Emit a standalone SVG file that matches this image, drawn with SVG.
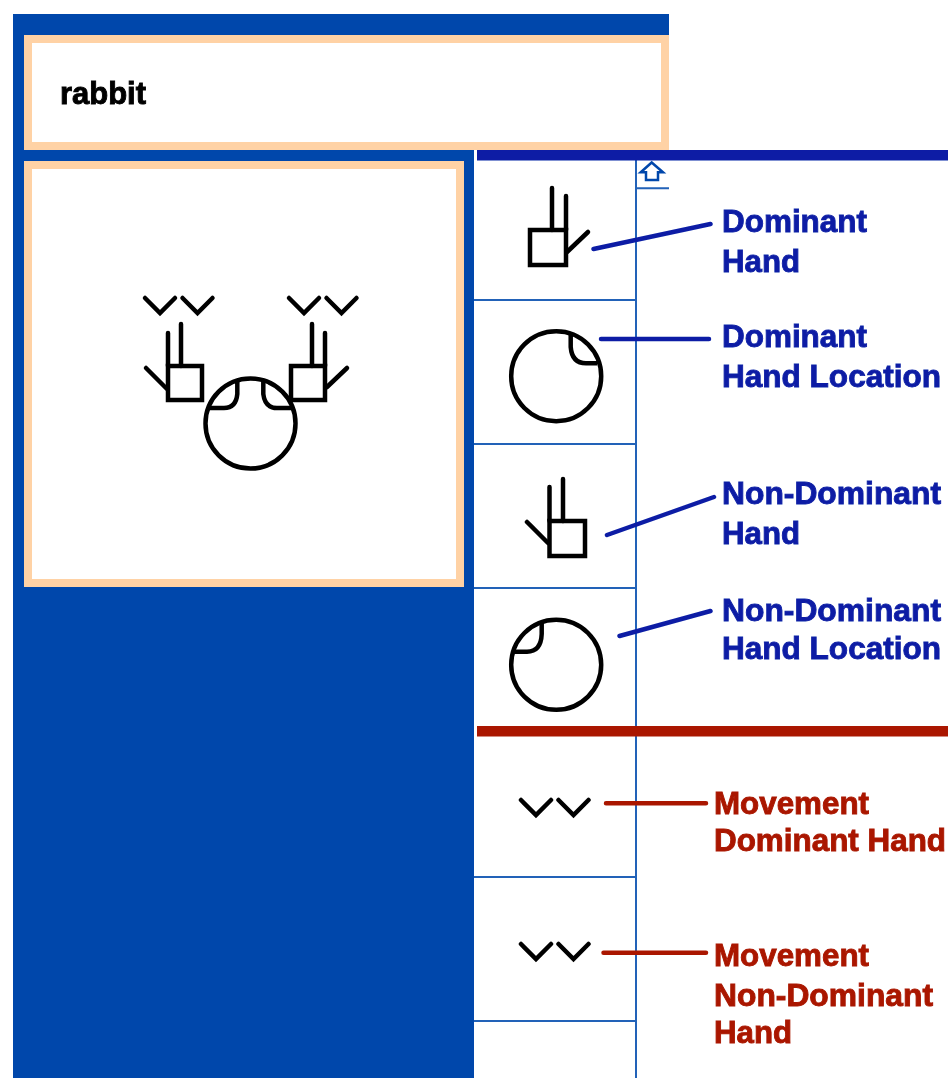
<svg xmlns="http://www.w3.org/2000/svg" width="948" height="1078" viewBox="0 0 948 1078">
<defs>
<filter id="soft" x="-5%" y="-5%" width="110%" height="110%"><feGaussianBlur stdDeviation="0.55"/></filter>
<g id="chev"><path d="M0 0L15 15L30 0M37.500 0L52.500 15L67.500 0" class="ink"/></g>
</defs>
<style>
.ink{fill:none;stroke:#000;stroke-width:4.500;stroke-linecap:round}
.sq{fill:none;stroke:#000;stroke-width:4.500;stroke-linecap:butt}
.cell{stroke:#2462b8;stroke-width:2;fill:none}
.lb{stroke:#0a1fa5;stroke-width:4.500;fill:none;stroke-linecap:round}
.lr{stroke:#aa1800;stroke-width:4.500;fill:none;stroke-linecap:round}
text{font-family:"Liberation Sans",Arial,sans-serif;font-weight:700;font-size:31px;stroke-width:0.9px}
.tb{fill:#0a1fa5;stroke:#0a1fa5}
.tr{fill:#aa1800;stroke:#aa1800}
.tk{fill:#000;stroke:#000}
</style>
<rect width="948" height="1078" fill="#fff"/>
<g filter="url(#soft)">
<g id="panel-background">
<path d="M13 14H669V35H474V1078H13Z" fill="#0047ab"/>
<rect x="24" y="150" width="450" height="11" fill="#0047ab"/>
</g>
<g id="word-frame">
<rect x="28" y="39" width="637" height="107" fill="#fff" stroke="#ffd2a5" stroke-width="8"/>
<text x="60" y="104" class="tk" textLength="86" lengthAdjust="spacingAndGlyphs">rabbit</text>
</g>
<g id="sign-frame">
<rect x="28" y="165" width="432" height="418" fill="#fff" stroke="#ffd2a5" stroke-width="8"/>
<use href="#chev" x="145" y="298"/>
<use href="#chev" x="289" y="298"/>
<rect x="168" y="366" width="34" height="34" class="sq"/>
<path d="M168 333V366M181 324V366M146 368L167 389" class="ink"/>
<rect x="291" y="366" width="34" height="34" class="sq"/>
<path d="M325 333V366M312 324V366M347 368L327 387" class="ink"/>
<circle cx="250.500" cy="423.500" r="45" class="sq"/>
<path d="M237.300 382V394Q236 408 224 408H207.500M263.300 382V394Q265 408 277 408H294" class="sq"/>
</g>
<g id="cells">
<rect x="474" y="161" width="162" height="917" fill="#fff"/>
<path d="M636 160V1078M474 300H636M474 444H636M474 588H636M474 877H636M474 1021H636M636 188.300H669" class="cell"/>
<path d="M651.700 162.500L663 172.300H658V180H646V172.300H640.700Z" fill="#fff" stroke="#0047ab" stroke-width="2.500"/>
</g>
<g id="dividers">
<rect x="477" y="150" width="471" height="10.500" fill="#0a1fa5"/>
<rect x="477" y="726" width="471" height="10.500" fill="#aa1800"/>
</g>
<g id="dominant-hand">
<rect x="530" y="230" width="36" height="35" class="sq"/>
<path d="M552 188V230M566 196V230M588 232L567 252" class="ink"/>
</g>
<g id="dominant-location">
<circle cx="556.200" cy="376.200" r="45" class="sq"/>
<path d="M570.700 334V347Q572 363.300 586 363.300H597" class="sq"/>
</g>
<g id="non-dominant-hand">
<rect x="549.500" y="521" width="35.500" height="35" class="sq"/>
<path d="M549.500 487V521M563 479V521M527 522L548 543" class="ink"/>
</g>
<g id="non-dominant-location">
<circle cx="556.200" cy="664.800" r="45" class="sq"/>
<path d="M541.700 621V634Q541 651.700 527 651.700H513.500" class="sq"/>
</g>
<g id="movement-dominant"><use href="#chev" x="521" y="800"/></g>
<g id="movement-non-dominant"><use href="#chev" x="521" y="944"/></g>
<g id="connectors">
<path d="M593.500 249L710.500 224M601 339H709M607 535L714 497M619.500 636L710.500 611" class="lb"/>
<path d="M606 803.300H706M603.500 952.700H706" class="lr"/>
</g>
<g id="labels">
<text x="722" y="232" class="tb" textLength="145" lengthAdjust="spacingAndGlyphs">Dominant</text>
<text x="722" y="272" class="tb" textLength="78" lengthAdjust="spacingAndGlyphs">Hand</text>
<text x="722" y="347" class="tb" textLength="145" lengthAdjust="spacingAndGlyphs">Dominant</text>
<text x="722" y="387" class="tb" textLength="219" lengthAdjust="spacingAndGlyphs">Hand Location</text>
<text x="722" y="504" class="tb" textLength="219" lengthAdjust="spacingAndGlyphs">Non-Dominant</text>
<text x="722" y="544" class="tb" textLength="78" lengthAdjust="spacingAndGlyphs">Hand</text>
<text x="722" y="621" class="tb" textLength="219" lengthAdjust="spacingAndGlyphs">Non-Dominant</text>
<text x="722" y="659" class="tb" textLength="219" lengthAdjust="spacingAndGlyphs">Hand Location</text>
<text x="714" y="814" class="tr" textLength="155" lengthAdjust="spacingAndGlyphs">Movement</text>
<text x="714" y="851" class="tr" textLength="232" lengthAdjust="spacingAndGlyphs">Dominant Hand</text>
<text x="714" y="966" class="tr" textLength="155" lengthAdjust="spacingAndGlyphs">Movement</text>
<text x="714" y="1006" class="tr" textLength="219" lengthAdjust="spacingAndGlyphs">Non-Dominant</text>
<text x="714" y="1043" class="tr" textLength="78" lengthAdjust="spacingAndGlyphs">Hand</text>
</g>
</g>
</svg>
